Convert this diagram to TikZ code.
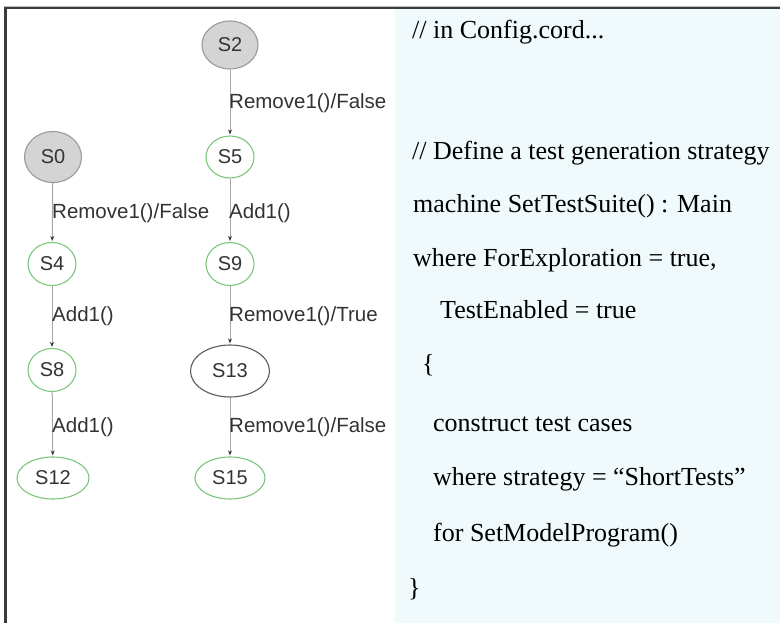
\documentclass[tikz,border=0pt]{standalone}
\usepackage{fontspec}
\setmainfont{Liberation Serif}
\newfontfamily\graphfont{Liberation Sans}
\usetikzlibrary{shapes.geometric,arrows.meta}

\definecolor{panelblue}{HTML}{F0F9FB}
\definecolor{framegray}{HTML}{3A3A3A}
\definecolor{stategreen}{HTML}{7CC67C}
\definecolor{statefill}{HTML}{D4D4D4}
\definecolor{stateedge}{HTML}{9A9A9A}
\definecolor{labelgray}{HTML}{333333}

\tikzset{
  state/.style={ellipse, draw=stategreen, line width=1.1pt, inner sep=0pt,
    text=labelgray, font=\graphfont\fontsize{20}{22}\selectfont},
  startstate/.style={state, draw=stateedge, fill=statefill},
  plainstate/.style={state, draw=black!65},
  trans/.style={draw=black!35, line width=1pt, shorten >=1pt,
    -{Stealth[length=5pt,width=4pt,color=black!80]}},
  translabel/.style={anchor=west, inner sep=0pt, text=labelgray,
    font=\graphfont\fontsize{20.5}{23}\selectfont},
  codeline/.style={anchor=base west, inner sep=0pt, text=black,
    font=\fontsize{26}{30}\selectfont}
}

\begin{document}
\begin{tikzpicture}[x=1pt,y=-1pt]
  \useasboundingbox (0,0) rectangle (780,623);

  % code panel background
  \fill[panelblue] (395,9.5) rectangle (780,623);

  % frame lines
  \draw[black!25, line width=1pt] (4,6.5) -- (780,6.5);
  \draw[framegray, line width=2pt] (5,8) -- (780,8);
  \draw[framegray, line width=2.5pt] (5.5,7) -- (5.5,623);

  % states
  \node[startstate, minimum width=56pt, minimum height=48pt] (s2) at (230,45) {S2};
  \node[startstate, minimum width=57pt, minimum height=51pt] (s0) at (53,157) {S0};
  \node[state, minimum width=48pt, minimum height=42pt] (s5) at (230,157) {S5};
  \node[state, minimum width=48pt, minimum height=43pt] (s4) at (52,264) {S4};
  \node[state, minimum width=48pt, minimum height=43pt] (s9) at (230,264) {S9};
  \node[state, minimum width=48pt, minimum height=43pt] (s8) at (52,370) {S8};
  \node[plainstate, minimum width=79pt, minimum height=52pt] (s13) at (230,371) {S13};
  \node[state, minimum width=72pt, minimum height=42pt] (s12) at (53,478) {S12};
  \node[state, minimum width=70pt, minimum height=42pt] (s15) at (230,478) {S15};

  % transitions
  \draw[trans] (s2) -- (s5);
  \draw[trans] (s0) -- (s4);
  \draw[trans] (s5) -- (s9);
  \draw[trans] (s4) -- (s8);
  \draw[trans] (s9) -- (s13);
  \draw[trans] (s8) -- (s12);
  \draw[trans] (s13) -- (s15);

  % transition labels
  \node[translabel] (l25) at (229,103) {Remove1()/False};
  \node[translabel] (l04) at (52,213) {Remove1()/False};
  \node[translabel] (l59) at (229,213) {Add1()};
  \node[translabel] (l48) at (52,316) {Add1()};
  \node[translabel] (l913) at (229,316) {Remove1()/True};
  \node[translabel] (l812) at (52,427) {Add1()};
  \node[translabel] (l1315) at (229,427) {Remove1()/False};

  % Cord configuration code
  \node[codeline] (c1) at (412,39) {// in Config.cord...};
  \node[codeline] (c2) at (412,160) {// Define a test generation strategy};
  \node[codeline] (c3) at (413,213) {machine SetTestSuite() : Main};
  \node[codeline] (c4) at (413,266) {where ForExploration = true,};
  \node[codeline] (c5) at (440,318) {TestEnabled = true};
  \node[codeline] (c6) at (422,372) {\{};
  \node[codeline] (c7) at (433,431) {construct test cases};
  \node[codeline] (c8) at (433,485) {where strategy = “ShortTests”};
  \node[codeline] (c9) at (433,541) {for SetModelProgram()};
  \node[codeline] (c10) at (408,596) {\}};
\end{tikzpicture}
\end{document}
